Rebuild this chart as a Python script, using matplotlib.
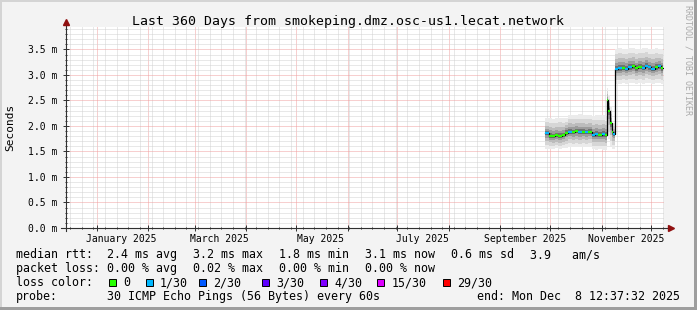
import pandas as pd
import matplotlib
matplotlib.use("Agg")
import matplotlib.pyplot as plt
import matplotlib.dates as mdates
from matplotlib.patches import Rectangle
from datetime import datetime, timedelta

# --- data (median rtt in ms, smoke range, loss count out of 30) ---
dates = ["2025-09-28", "2025-09-30", "2025-10-02", "2025-10-04", "2025-10-06",
         "2025-10-08", "2025-10-10", "2025-10-12", "2025-10-14", "2025-10-16",
         "2025-10-18", "2025-10-20", "2025-10-22", "2025-10-24", "2025-10-26",
         "2025-10-28", "2025-10-30", "2025-11-01", "2025-11-03", "2025-11-04",
         "2025-11-05", "2025-11-06", "2025-11-07", "2025-11-08", "2025-11-09",
         "2025-11-11", "2025-11-13", "2025-11-15", "2025-11-17", "2025-11-19",
         "2025-11-21", "2025-11-23", "2025-11-25", "2025-11-27", "2025-11-29",
         "2025-12-01", "2025-12-03", "2025-12-05", "2025-12-07", "2025-12-08"]
median_ms = [1.86, 1.81, 1.80, 1.82, 1.80, 1.82, 1.87, 1.89, 1.88, 1.90,
             1.88, 1.89, 1.88, 1.89, 1.83, 1.84, 1.83, 1.84, 1.82, 2.50,
             2.30, 2.05, 1.88, 1.85, 3.12, 3.13, 3.14, 3.12, 3.15, 3.17,
             3.13, 3.16, 3.14, 3.18, 3.15, 3.12, 3.15, 3.17, 3.13, 3.13]
smoke_lo = [1.55, 1.55, 1.55, 1.56, 1.55, 1.56, 1.56, 1.59, 1.58, 1.59,
            1.58, 1.59, 1.58, 1.58, 1.54, 1.53, 1.54, 1.53, 1.53, 1.95,
            1.75, 1.60, 1.55, 1.55, 2.82, 2.83, 2.84, 2.82, 2.84, 2.85,
            2.83, 2.84, 2.83, 2.85, 2.84, 2.82, 2.84, 2.85, 2.83, 2.83]
smoke_hi = [2.15, 2.15, 2.14, 2.15, 2.16, 2.15, 2.16, 2.22, 2.21, 2.22,
            2.23, 2.22, 2.21, 2.22, 2.20, 2.22, 2.21, 2.22, 2.20, 2.75,
            2.60, 2.40, 2.10, 2.05, 3.50, 3.52, 3.51, 3.50, 3.53, 3.52,
            3.50, 3.51, 3.52, 3.53, 3.50, 3.51, 3.52, 3.50, 3.51, 3.51]
loss = [1, 0, 0, 0, 0, 0, 0, 1, 0, 0, 1, 0, 1, 0, 1, 1, 0, 1, 0, 0,
        0, 0, 0, 1, 1, 1, 0, 1, 1, 0, 0, 0, 1, 1, 1, 1, 0, 1, 0, 0]

month_labels = ["January 2025", "March 2025", "May 2025", "July 2025",
                "September 2025", "November 2025"]
month_label_pos = ["2025-01-16", "2025-03-16", "2025-05-16", "2025-07-16",
                   "2025-09-16", "2025-11-16"]
yticks = [0.0, 0.5, 1.0, 1.5, 2.0, 2.5, 3.0, 3.5]

loss_names = ["0", "1/30", "2/30", "3/30", "4/30", "15/30", "29/30"]
loss_colors = ["#26ff00", "#00b8ff", "#0059ff", "#5e00ff", "#7e00ff", "#dd00ff", "#ff0000"]

start = datetime(2024, 12, 13, 12, 37, 32)
end = datetime(2025, 12, 8, 12, 37, 32)

df = pd.DataFrame({"date": pd.to_datetime(dates), "median": median_ms,
                   "lo": smoke_lo, "hi": smoke_hi, "loss": loss})

W, H = 697, 310
MONO = "DejaVu Sans Mono"
fig = plt.figure(figsize=(W / 100, H / 100), dpi=100, facecolor="#f3f3f3")

def fx(x):
    return x / W

def fy(y):
    return 1 - y / H

# frame shading like rrdtool
fig.add_artist(Rectangle((0, fy(2)), 1, 2 / H, transform=fig.transFigure, color="#d4d4d4", lw=0))
fig.add_artist(Rectangle((0, 0), 2 / W, 1, transform=fig.transFigure, color="#d4d4d4", lw=0))
fig.add_artist(Rectangle((fx(694), 0), 3 / W, 1, transform=fig.transFigure, color="#9e9e9e", lw=0))
fig.add_artist(Rectangle((0, 0), 1, 3 / H, transform=fig.transFigure, color="#9e9e9e", lw=0))

ax = fig.add_axes([fx(66), fy(228), 598 / W, 201 / H])
ax.set_facecolor("white")
ax.set_xlim(start, end)
ax.set_ylim(0, 3.94)

# grid
ax.xaxis.set_major_locator(mdates.MonthLocator())
ax.xaxis.set_minor_locator(mdates.WeekdayLocator(byweekday=mdates.MO))
ax.set_yticks(yticks)
ax.yaxis.set_minor_locator(matplotlib.ticker.MultipleLocator(0.1))
ax.grid(which="minor", color="#d2d2d2", lw=0.72, ls=(0, (1, 1)))
ax.grid(which="major", color="#f0a0a0", lw=0.72, ls=(0, (1, 1)))
ax.set_axisbelow(True)
for s in ax.spines.values():
    s.set_visible(False)

ax.set_xticklabels([])
ax.set_yticklabels([f"{v:.1f} m" for v in yticks], fontsize=7, family=MONO)
ax.tick_params(which="both", direction="inout", color="#303030", width=0.7)
ax.tick_params(which="major", length=4, pad=4)
ax.tick_params(which="minor", length=2)

for lab, pos in zip(month_labels, month_label_pos):
    ax.text(pd.Timestamp(pos), -14 / 201, lab, transform=ax.get_xaxis_transform(),
            ha="center", va="baseline", fontsize=7, family=MONO)

# smoke
fracs = [1.0, 0.75, 0.5, 0.3, 0.15]
grays = ["#ebebeb", "#d6d6d6", "#bcbcbc", "#9c9c9c", "#727272"]
for f, g in zip(fracs, grays):
    lo = df["median"] - f * (df["median"] - df["lo"])
    hi = df["median"] + f * (df["hi"] - df["median"])
    ax.fill_between(df["date"], lo, hi, step="post", color=g, lw=0)

# median line coloured by loss
ax.step(df["date"], df["median"], where="post", color="black", lw=0.9)
for i in range(len(df) - 1):
    ax.plot([df["date"][i], df["date"][i + 1]], [df["median"][i], df["median"][i]],
            color=loss_colors[df["loss"][i]], lw=1.6, solid_capstyle="butt")

# axis lines with arrows
ax.plot([0, 0], [-0.015, 1.02], transform=ax.transAxes, color="#303030", lw=0.8, clip_on=False)
ax.plot([-0.008, 1.01], [0, 0], transform=ax.transAxes, color="#303030", lw=0.8, clip_on=False)
ax.plot([0], [1.025], marker="^", ms=4, color="#901010", transform=ax.transAxes, clip_on=False)
ax.plot([1.012], [0], marker=">", ms=4, color="#901010", transform=ax.transAxes, clip_on=False)

# texts
fig.text(fx(348.5), fy(25), "Last 360 Days from smokeping.dmz.osc-us1.lecat.network",
         ha="center", va="baseline", fontsize=9.5, family=MONO)
fig.text(fx(10), fy(127), "Seconds", rotation=90, ha="center", va="center",
         fontsize=8, family=MONO)
fig.text(fx(688), fy(5), "RRDTOOL / TOBI OETIKER", rotation=270, ha="center", va="top",
         fontsize=6, family=MONO, color="#aaaaaa")

LS = 8.4
row1 = [(16, "median rtt:"), (107, "2.4 ms avg"), (193, "3.2 ms max"), (279, "1.8 ms min"),
        (365, "3.1 ms now"), (451, "0.6 ms sd"), (530, "3.9   am/s")]
row2 = [(16, "packet loss:"), (107, "0.00 % avg"), (193, "0.02 % max"),
        (279, "0.00 % min"), (365, "0.00 % now")]
for x, t in row1:
    fig.text(fx(x), fy(258), t, fontsize=LS, family=MONO, va="baseline")
for x, t in row2:
    fig.text(fx(x), fy(272), t, fontsize=LS, family=MONO, va="baseline")

fig.text(fx(16), fy(286), "loss color:", fontsize=LS, family=MONO, va="baseline")
box_x = [108.5, 145.5, 198.5, 261.5, 319.5, 377, 442.5]
for bx, name, col in zip(box_x, loss_names, loss_colors):
    fig.add_artist(Rectangle((fx(bx), fy(286)), 7 / W, 7 / H, transform=fig.transFigure,
                             facecolor=col, edgecolor="black", lw=0.7))
    fig.text(fx(bx + 14.5), fy(286), name, fontsize=LS, family=MONO, va="baseline")

fig.text(fx(16), fy(300), "probe:", fontsize=LS, family=MONO, va="baseline")
fig.text(fx(107), fy(300), "30 ICMP Echo Pings (56 Bytes) every 60s", fontsize=LS,
         family=MONO, va="baseline")
fig.text(fx(680), fy(300), "end: Mon Dec  8 12:37:32 2025", fontsize=LS, family=MONO,
         va="baseline", ha="right")

fig.savefig("out.png", dpi=100, facecolor=fig.get_facecolor())
